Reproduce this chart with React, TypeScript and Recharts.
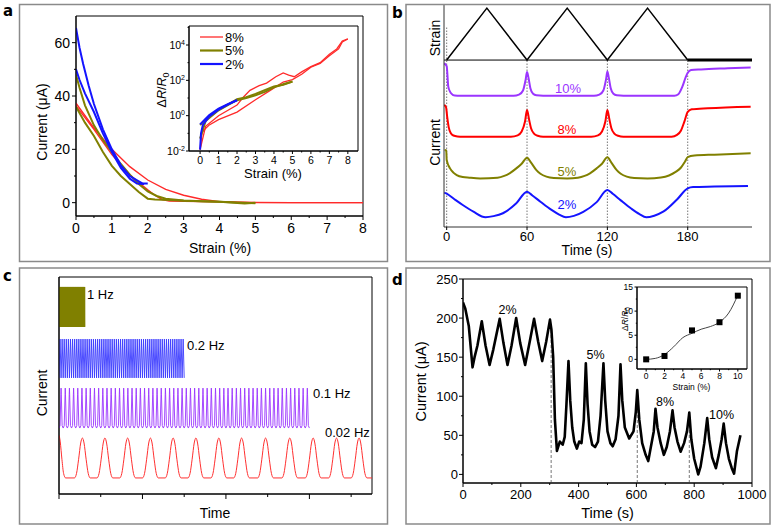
import React from "react";
import {
  LineChart,
  ComposedChart,
  Line,
  Scatter,
  XAxis,
  YAxis,
  ReferenceArea,
  ReferenceLine,
  Legend,
} from "recharts";

const FONT = '"Liberation Sans", Arial, sans-serif';
const RED = "#ff2a2a";
const OLIVE = "#808000";
const BLUE = "#1414ff";
const PURPLE = "#9b35ff";

// ---------- panel a : current vs strain (loading / unloading loops)
const A_RED_1 = [[0, 37.3], [0.5, 28], [1, 20], [1.5, 13.5], [2, 8.5], [2.5, 5], [3, 2.8], [3.5, 1.3], [4, 0.4], [4.5, 0.2], [5, 0.1], [6, 0], [8, 0]];
const A_RED_2 = [[0, 36.3], [0.5, 27.5], [1, 18], [1.5, 10.5], [1.8, 7], [2, 4.8], [2.2, 2.8], [2.4, 1.2], [2.6, 0.6], [3, 0.5], [4, 0.3], [5, 0], [8, 0]];
const A_OLIVE_1 = [[0, 48], [0.1, 43], [0.25, 36.5], [0.5, 29], [0.75, 23.5], [1, 19], [1.25, 14.5], [1.5, 10.5], [1.75, 7], [2, 4.2], [2.25, 2.5], [2.5, 1.5], [3, 0.8], [3.5, 0.5], [4, 0.3], [4.5, 0.1], [5, -0.2]];
const A_OLIVE_2 = [[0, 36], [0.25, 30], [0.5, 25], [0.75, 19], [1, 13.8], [1.25, 10], [1.5, 7], [1.75, 4], [2, 1.5], [2.2, 1.2], [2.6, 1], [3, 0.7], [4, 0.3], [4.7, -0.3], [5, 0]];
const A_BLUE_1 = [[0, 65.5], [0.1, 58], [0.2, 52], [0.35, 44], [0.5, 37], [0.75, 27.5], [1, 20], [1.25, 14], [1.5, 10], [1.75, 8], [1.85, 7.2], [2, 7.2]];
const A_BLUE_2 = [[0, 50], [0.1, 46], [0.25, 41], [0.5, 34], [0.75, 26], [1, 19], [1.25, 13], [1.5, 9], [1.7, 7.2], [1.9, 7]];

// inset a : dR/R0 (log) vs strain
const AI_RED_1 = [[0, 0.012], [0.1, 0.1], [0.2, 0.15], [0.5, 0.3], [1, 0.6], [2, 1.6], [3, 8], [3.8, 27], [4.5, 80], [5, 110], [5.5, 220], [6, 550], [6.5, 900], [7, 2500], [7.5, 6000], [7.7, 15000], [8, 22000]];
const AI_RED_2 = [[8, 22000], [7.7, 17000], [7.4, 6000], [7, 3000], [6.5, 1000], [6, 600], [5.5, 300], [5.1, 160], [4.8, 200], [4.5, 260], [4.1, 160], [3.6, 70], [3.2, 50], [2.7, 27], [2.3, 10], [2, 4], [1, 1], [0.3, 0.25], [0, 0.012]];
const AI_OLIVE_1 = [[0, 0.3], [0.3, 0.6], [1, 2.2], [1.5, 4.2], [2, 8.5], [2.5, 11], [3, 17], [3.5, 28], [4, 45], [4.5, 56], [5, 85]];
const AI_OLIVE_2 = [[5, 85], [4.5, 60], [4, 40], [3.5, 22], [3, 14], [2.5, 10], [2, 7.5], [1.5, 4], [1, 2], [0.3, 0.5], [0, 0.05]];
const AI_BLUE_1 = [[0, 0.32], [0.25, 0.6], [0.5, 1.1], [1, 2.5], [1.5, 4.5], [2, 7.5]];
const AI_BLUE_2 = [[0, 0.012], [0.05, 0.1], [0.15, 0.3], [0.5, 0.9], [1, 2.2], [1.5, 4.2], [2, 7.5]];
const AI_LEGEND = ["8%", "5%", "2%"];

// ---------- panel b : stacked traces (arbitrary units) vs time (s)
const B_STRAIN = [[0, 75.2], [30, 98.6], [60, 75.2], [90, 98.6], [120, 75.2], [150, 98.6], [180, 75.2]];
const B_HOLD = [[180, 75.2], [228, 75.2]];
const B_10 = [[-1.8, 73.7], [0, 72.5], [1.2, 63.2], [2.5, 61], [3.7, 60], [6, 59.2], [10, 59.1], [50, 59.1], [54, 59.6], [57, 61.5], [59, 66.5], [60, 69.8], [61, 67.5], [62.5, 62.5], [64.5, 60], [67, 59.3], [72, 59.1], [110, 59.1], [114, 59.6], [117, 61.5], [119, 66.5], [120, 70], [121, 67.5], [122.5, 62.5], [124.5, 60], [127, 59.3], [132, 59.1], [170, 59.1], [173, 59.8], [176, 63.2], [178.5, 67.5], [180, 69.5], [182.5, 70.7], [190, 71], [210, 71.5], [227, 71.9]];
const B_8 = [[-1.8, 55], [-0.5, 54], [0.5, 49], [1.5, 45], [3, 42.3], [5, 41.2], [8, 40.8], [12, 40.7], [48, 40.7], [53, 41.3], [56, 43], [58.5, 47.5], [60, 52.7], [61.5, 48.5], [63, 44.5], [65, 42.2], [68, 41.1], [72, 40.7], [108, 40.7], [113, 41.3], [116, 43], [118.5, 47.5], [120, 52.7], [121.5, 48.5], [123, 44.5], [125, 42.2], [128, 41.1], [132, 40.7], [168, 40.7], [172, 41.5], [175, 43.5], [177.5, 47.5], [180, 51.9], [183, 53], [195, 53.5], [227, 54.2]];
const B_5 = [[-1.5, 34.7], [-0.3, 34.5], [0, 30.2], [2.5, 26.4], [5, 24.5], [7.5, 23.4], [12, 22.5], [17, 22.2], [25, 21.9], [38, 22.2], [43, 23], [47, 24.2], [52, 26.4], [56, 28.5], [60, 31.2], [63, 29], [67, 25.6], [70, 24], [74.5, 22.7], [80, 22.1], [90, 21.9], [98, 22.2], [103, 23], [107, 24.2], [112, 26.4], [116, 28.5], [120, 31.4], [123, 29], [127, 25.6], [130, 24], [134.5, 22.7], [140, 22.1], [150, 21.9], [160, 22.3], [166, 23.2], [171, 24.8], [175, 26.8], [178, 29.5], [180, 31.5], [185, 32.2], [200, 32.6], [227, 33.2]];
const B_2 = [[-1.8, 15.5], [0, 15], [6, 12.4], [12, 9.9], [20, 6.9], [29, 4.4], [35, 4.9], [42, 6.2], [52, 10.7], [60, 15.9], [64, 14.2], [70, 11.4], [78, 7.8], [84, 5.6], [89, 4.4], [95, 5], [102, 6.8], [112, 11.2], [120, 16.7], [124, 15], [130, 12], [138, 8.2], [144, 5.8], [149, 4.4], [155, 5.1], [162, 7], [172, 12.4], [180, 17.4], [184, 18], [200, 18.2], [225, 18.5]];
const B_MARKS = [[0, 90], [60, 75.2], [120, 75.2], [180, 75.2]];

// ---------- panel c : cyclic tests at different frequencies (arbitrary units)
const C_OLIVE_CYCLE = [[0, 77], [0.5, 95.4]]; // 1 Hz
const C_BLUE_CYCLE = [[0, 53.5], [0.5, 71.4]]; // 0.2 Hz
const C_PURPLE_CYCLE = [[0, 30.4], [0.25, 31.5], [0.45, 46], [0.5, 48.8], [0.55, 46], [0.75, 31.5]]; // 0.1 Hz
const C_CYCLES = { olive: { period: 1, count: 62 }, blue: { period: 5, count: 60 }, purple: { period: 10, count: 60 } };
const C_RED_START = [[0.5, 27], [3, 24], [7, 16], [11, 9.5], [16, 7.4]];
const C_RED_PEAKS = [56, 110, 164.5, 219, 273.5, 328, 383, 437.5, 495, 553, 609, 665, 719];
const C_RED_SHAPE = [[-19, 7.4], [-14, 9.5], [-9, 16], [-4, 23.5], [0, 25.8], [4, 23.5], [9, 16], [14, 9.5], [19, 7.4]];
const C_RED_END = [[750, 7.4]];

// ---------- panel d : current (uA) vs time (s)
const D_TIME = [0, 8, 20, 33, 40, 50, 65, 78, 92, 105, 127, 140, 154, 168, 184, 198, 215, 230, 246, 260, 274, 288, 301, 306, 312, 318, 325, 335, 345, 352, 358, 365, 371, 378, 385, 394, 402, 410, 418, 425, 431, 438, 447, 457, 467, 476, 486, 492, 500, 510, 518, 528, 538, 545, 551, 560, 575, 590, 598, 603, 610, 620, 632, 641, 650, 660, 666, 673, 684, 695, 705, 716, 725, 732, 742, 753, 765, 775, 783, 790, 800, 814, 822, 835, 845, 852, 862, 875, 885, 895, 902, 910, 920, 930, 938, 948, 960];
const D_CURRENT = [220, 212, 190, 137, 150, 165, 196, 165, 140, 160, 199, 168, 140, 165, 200, 168, 140, 168, 199, 170, 145, 170, 198, 185, 150, 70, 30, 42, 38, 48, 90, 145, 95, 60, 42, 33, 42, 40, 70, 142, 90, 55, 38, 35, 42, 75, 142, 95, 55, 40, 36, 45, 75, 141, 95, 60, 46, 55, 80, 108, 70, 40, 25, 17, 35, 55, 84, 60, 40, 25, 35, 55, 82, 60, 42, 29, 40, 55, 79, 45, 20, 0, 10, 40, 72, 45, 22, 8, 25, 45, 65, 40, 20, 8, 1, 30, 50];
const D_MARKS = [[305, 185], [603, 108], [783, 79]];
const D_STEPS = ["2%", "5%", "8%", "10%"];

// inset d : dR/R0 vs strain
const DI_STRAIN = [0, 2, 5, 8, 10];
const DI_RATIO = [0, 0.7, 6, 7.7, 13.2];
const DI_FIT = [[0, 0], [1, 0.2], [2, 1], [3, 2.6], [4, 4.5], [5, 5.4], [6, 6.25], [7, 6.8], [8, 7.7], [9, 9.6], [10, 13.3]];

const pts = (arr: number[][]) => arr.map(([x, y]) => ({ x, y }));

function repeatCycle(shape: number[][], period: number, count: number) {
  const out: { x: number; y: number }[] = [];
  for (let i = 0; i < count; i++) {
    for (const [f, v] of shape) out.push({ x: (i + f) * period, y: v });
  }
  out.push({ x: count * period, y: shape[0][1] });
  return out;
}

const near = (v: number, list: number[]) =>
  list.some((m) => Math.abs(m - v) <= 1e-6 * Math.max(1, Math.abs(m)));

type TickOpts = {
  majors: number[];
  major: number;
  minor: number;
  font: number;
  offset: number;
  fmt?: (v: number) => React.ReactNode;
  noLabel?: boolean;
};

const xTick = (o: TickOpts) => (p: any) => {
  const v = p.payload.value;
  const isMajor = near(v, o.majors);
  return (
    <g>
      <line x1={p.x} x2={p.x} y1={p.y} y2={p.y + (isMajor ? o.major : o.minor)} stroke="#000" />
      {isMajor && !o.noLabel && (
        <text x={p.x} y={p.y + o.offset} textAnchor="middle" fontSize={o.font} fontFamily={FONT} fill="#000">
          {o.fmt ? o.fmt(v) : v}
        </text>
      )}
    </g>
  );
};

const yTick = (o: TickOpts) => (p: any) => {
  const v = p.payload.value;
  const isMajor = near(v, o.majors);
  return (
    <g>
      <line x1={p.x - (isMajor ? o.major : o.minor)} x2={p.x} y1={p.y} y2={p.y} stroke="#000" />
      {isMajor && !o.noLabel && (
        <text x={p.x - o.offset} y={p.y + o.font * 0.36} textAnchor="end" fontSize={o.font} fontFamily={FONT} fill="#000">
          {o.fmt ? o.fmt(v) : v}
        </text>
      )}
    </g>
  );
};

const pow10 = (v: number) => (
  <>
    <tspan>10</tspan>
    <tspan dy={-4} fontSize={7}>{Math.round(Math.log10(v))}</tspan>
  </>
);

const range = (a: number, b: number, s: number) => {
  const out: number[] = [];
  for (let v = a; v <= b + 1e-9; v += s) out.push(+v.toFixed(6));
  return out;
};

const lineProps = { dot: false, activeDot: false, isAnimationActive: false } as const;

function InsetLegend({ payload }: any) {
  const items = AI_LEGEND.map((name) => (payload || []).find((e: any) => e.value === name)).filter(Boolean);
  return (
    <svg width={80} height={46} style={{ overflow: "visible" }}>
      {items.map((e: any, i: number) => (
        <g key={e.value}>
          <line x1={0} x2={23} y1={5 + i * 13.5} y2={5 + i * 13.5} stroke={e.color} strokeWidth={e.value === "8%" ? 1.3 : 2.2} />
          <text x={25} y={9.5 + i * 13.5} fontSize={13} fontFamily={FONT} fill="#000">{e.value}</text>
        </g>
      ))}
    </svg>
  );
}

function PanelA() {
  return (
    <>
      <div style={{ position: "absolute", left: 0, top: 0 }}>
        <LineChart width={400} height={262} margin={{ top: 16, right: 37, bottom: 0, left: 0 }}>
          <XAxis type="number" dataKey="x" domain={[0, 8]} allowDataOverflow ticks={range(0, 8, 0.5)} interval={0}
            height={46} tickSize={0} tickMargin={0} tickLine={false} axisLine={{ stroke: "#000" }}
            tick={xTick({ majors: range(0, 8, 1), major: 4, minor: 2, font: 14, offset: 17 })} />
          <YAxis type="number" dataKey="y" domain={[-5, 70]} allowDataOverflow ticks={range(0, 60, 10)} interval={0}
            width={76} tickSize={0} tickMargin={0} tickLine={false} axisLine={{ stroke: "#000" }}
            tick={yTick({ majors: [0, 20, 40, 60], major: 4, minor: 2, font: 14, offset: 6 })} />
          <ReferenceArea x1={0} x2={8} y1={-5} y2={70} fill="none" stroke="#000" />
          <Line data={pts(A_RED_1)} dataKey="y" stroke={RED} strokeWidth={1.4} {...lineProps} />
          <Line data={pts(A_RED_2)} dataKey="y" stroke={RED} strokeWidth={1.4} {...lineProps} />
          <Line data={pts(A_OLIVE_1)} dataKey="y" stroke={OLIVE} strokeWidth={2} {...lineProps} />
          <Line data={pts(A_OLIVE_2)} dataKey="y" stroke={OLIVE} strokeWidth={2} {...lineProps} />
          <Line data={pts(A_BLUE_1)} dataKey="y" stroke={BLUE} strokeWidth={2} {...lineProps} />
          <Line data={pts(A_BLUE_2)} dataKey="y" stroke={BLUE} strokeWidth={2} {...lineProps} />
        </LineChart>
      </div>
      <div style={{ position: "absolute", left: 150, top: 10 }}>
        <LineChart width={215} height={175} margin={{ top: 16, right: 7, bottom: 0, left: 0 }}>
          <XAxis type="number" dataKey="x" domain={[-0.6, 8.55]} allowDataOverflow ticks={range(0, 8, 0.5)} interval={0}
            height={34} tickSize={0} tickMargin={0} tickLine={false} axisLine={{ stroke: "#000" }}
            tick={xTick({ majors: range(0, 8, 1), major: 3, minor: 1.5, font: 10.5, offset: 13 })} />
          <YAxis type="number" dataKey="y" scale="log" domain={[0.01, 119000]} allowDataOverflow
            ticks={[0.01, 0.1, 1, 10, 100, 1000, 10000, 100000]} interval={0}
            width={39} tickSize={0} tickMargin={0} tickLine={false} axisLine={{ stroke: "#000" }}
            tick={yTick({ majors: [0.01, 1, 100, 10000], major: 3, minor: 1.5, font: 10.5, offset: 4, fmt: pow10 })} />
          <ReferenceArea x1={-0.6} x2={8.55} y1={0.01} y2={119000} fill="none" stroke="#000" />
          <Line data={pts(AI_RED_1)} dataKey="y" name="8%" stroke={RED} strokeWidth={1.3} {...lineProps} />
          <Line data={pts(AI_RED_2)} dataKey="y" name="8%b" legendType="none" stroke={RED} strokeWidth={1.3} {...lineProps} />
          <Line data={pts(AI_OLIVE_1)} dataKey="y" name="5%" stroke={OLIVE} strokeWidth={2} {...lineProps} />
          <Line data={pts(AI_OLIVE_2)} dataKey="y" name="5%b" legendType="none" stroke={OLIVE} strokeWidth={2} {...lineProps} />
          <Line data={pts(AI_BLUE_1)} dataKey="y" name="2%" stroke={BLUE} strokeWidth={2} {...lineProps} />
          <Line data={pts(AI_BLUE_2)} dataKey="y" name="2%b" legendType="none" stroke={BLUE} strokeWidth={2} {...lineProps} />
          <Legend layout="horizontal" verticalAlign="middle" align="center" content={InsetLegend}
            wrapperStyle={{ left: 50, top: 22, width: 80, height: 46 }} />
        </LineChart>
      </div>
    </>
  );
}

function PanelB() {
  const traces = [
    { d: B_10, c: PURPLE },
    { d: B_8, c: "#ff0000" },
    { d: B_5, c: OLIVE },
    { d: B_2, c: BLUE },
  ];
  return (
    <div style={{ position: "absolute", left: 400, top: 0 }}>
      <LineChart width={370} height={262} margin={{ top: 5, right: 18, bottom: 0, left: 0 }}>
        <XAxis type="number" dataKey="x" domain={[-2, 228]} allowDataOverflow ticks={[0, 60, 120, 180]} interval={0}
          height={35} tickSize={0} tickMargin={0} tickLine={false} axisLine={{ stroke: "#333" }}
          tick={xTick({ majors: [0, 60, 120, 180], major: 3, minor: 0, font: 13, offset: 14 })} />
        <YAxis type="number" dataKey="y" domain={[0, 100]} allowDataOverflow width={44} tick={false}
          tickLine={false} axisLine={{ stroke: "#333" }} />
        {B_MARKS.map(([t, top]) => (
          <ReferenceLine key={t} segment={[{ x: t, y: 0 }, { x: t, y: top }]} stroke="#777" strokeDasharray="1.5 1.5" />
        ))}
        <ReferenceLine y={75.2} stroke="#000" strokeWidth={1} />
        <Line data={pts(B_STRAIN)} dataKey="y" type="linear" stroke="#000" strokeWidth={1.5} {...lineProps} />
        <Line data={pts(B_HOLD)} dataKey="y" type="linear" stroke="#000" strokeWidth={3} {...lineProps} />
        {traces.map((t, i) => (
          <Line key={i} data={pts(t.d)} dataKey="y" type="monotone" stroke={t.c} strokeWidth={2} {...lineProps} />
        ))}
      </LineChart>
    </div>
  );
}

function PanelC() {
  const red = [
    ...pts(C_RED_START),
    ...C_RED_PEAKS.flatMap((p) => C_RED_SHAPE.map(([dt, v]) => ({ x: p + dt, y: v }))),
    ...pts(C_RED_END),
  ];
  return (
    <div style={{ position: "absolute", left: 0, top: 262 }}>
      <LineChart width={400} height={268} margin={{ top: 15, right: 28, bottom: 0, left: 0 }}>
        <XAxis type="number" dataKey="x" domain={[0, 750]} allowDataOverflow ticks={range(0, 700, 100)} interval={0}
          height={36} tickSize={0} tickMargin={0} tickLine={false} axisLine={{ stroke: "#000" }}
          tick={xTick({ majors: [0, 200, 400, 600], major: 5, minor: 3, font: 12, offset: 14, noLabel: true })} />
        <YAxis type="number" dataKey="y" domain={[0, 100]} allowDataOverflow width={59} tick={false}
          tickLine={false} axisLine={{ stroke: "#000" }} />
        <ReferenceArea x1={0} x2={750} y1={0} y2={100} fill="none" stroke="#000" />
        <Line data={repeatCycle(C_OLIVE_CYCLE, C_CYCLES.olive.period, C_CYCLES.olive.count)} dataKey="y" type="linear" stroke={OLIVE} strokeWidth={1} {...lineProps} />
        <Line data={repeatCycle(C_BLUE_CYCLE, C_CYCLES.blue.period, C_CYCLES.blue.count)} dataKey="y" type="linear" stroke="#3a3aff" strokeWidth={0.9} {...lineProps} />
        <Line data={repeatCycle(C_PURPLE_CYCLE, C_CYCLES.purple.period, C_CYCLES.purple.count)} dataKey="y" type="linear" stroke={PURPLE} strokeWidth={0.9} {...lineProps} />
        <Line data={red} dataKey="y" type="monotone" stroke="#ff3030" strokeWidth={1} {...lineProps} />
      </LineChart>
    </div>
  );
}

function PanelD() {
  const data = D_TIME.map((t, i) => ({ x: t, y: D_CURRENT[i] }));
  const inset = DI_STRAIN.map((s, i) => ({ x: s, y: DI_RATIO[i] }));
  return (
    <>
      <div style={{ position: "absolute", left: 400, top: 262 }}>
        <LineChart width={370} height={268} margin={{ top: 17, right: 18, bottom: 0, left: 0 }}>
          <XAxis type="number" dataKey="x" domain={[0, 1000]} allowDataOverflow ticks={range(0, 1000, 100)} interval={0}
            height={47} tickSize={0} tickMargin={0} tickLine={false} axisLine={{ stroke: "#000" }}
            tick={xTick({ majors: range(0, 1000, 200), major: 4, minor: 2, font: 13, offset: 16 })} />
          <YAxis type="number" dataKey="y" domain={[-11, 250]} allowDataOverflow ticks={range(0, 250, 25)} interval={0}
            width={63} tickSize={0} tickMargin={0} tickLine={false} axisLine={{ stroke: "#000" }}
            tick={yTick({ majors: range(0, 250, 50), major: 4, minor: 2, font: 13, offset: 5 })} />
          <ReferenceArea x1={0} x2={1000} y1={-11} y2={250} fill="none" stroke="#000" />
          {D_MARKS.map(([t, top]) => (
            <ReferenceLine key={t} segment={[{ x: t, y: -11 }, { x: t, y: top }]} stroke="#777" strokeDasharray="3 2" />
          ))}
          <Line data={data} dataKey="y" type="linear" stroke="#000" strokeWidth={2.6} strokeLinejoin="round" {...lineProps} />
        </LineChart>
      </div>
      <div style={{ position: "absolute", left: 590, top: 280 }}>
        <ComposedChart width={165} height={115} margin={{ top: 7, right: 8, bottom: 0, left: 0 }}>
          <XAxis type="number" dataKey="x" domain={[-1, 11]} allowDataOverflow ticks={range(0, 10, 1)} interval={0}
            height={26} tickSize={0} tickMargin={0} tickLine={false} axisLine={{ stroke: "#000" }}
            tick={xTick({ majors: range(0, 10, 2), major: 2.5, minor: 1.2, font: 8.5, offset: 10 })} />
          <YAxis type="number" dataKey="y" domain={[-2, 15]} allowDataOverflow ticks={range(0, 15, 2.5)} interval={0}
            width={47} tickSize={0} tickMargin={0} tickLine={false} axisLine={{ stroke: "#000" }}
            tick={yTick({ majors: [0, 5, 10, 15], major: 2.5, minor: 1.2, font: 8.5, offset: 4 })} />
          <ReferenceArea x1={-1} x2={11} y1={-2} y2={15} fill="none" stroke="#000" />
          <Line data={pts(DI_FIT)} dataKey="y" type="monotone" stroke="#444" strokeWidth={1} {...lineProps} />
          <Scatter data={inset} dataKey="y" fill="#000" isAnimationActive={false}
            shape={(p: any) => <rect x={p.cx - 3} y={p.cy - 3} width={6} height={6} fill="#000" />} />
        </ComposedChart>
      </div>
    </>
  );
}

function Overlay() {
  const t = { fontFamily: FONT, fill: "#000" };
  const letter = { fontFamily: '"DejaVu Sans", sans-serif', fontWeight: 700, fontSize: 15, fill: "#000" };
  const frame = { fill: "none", stroke: "#8a8a8a", strokeWidth: 1.5 };
  return (
    <svg width={776} height={531} style={{ position: "absolute", left: 0, top: 0, pointerEvents: "none" }}>
      <rect x={19.5} y={4.5} width={368} height={257} {...frame} />
      <rect x={406} y={4.5} width={364} height={257} {...frame} />
      <rect x={19.5} y={268} width={368} height={256} {...frame} />
      <rect x={406} y={268} width={364} height={256} {...frame} />
      <text x={3} y={16} {...letter}>a</text>
      <text x={392} y={18} {...letter}>b</text>
      <text x={3} y={281} {...letter}>c</text>
      <text x={392} y={285} {...letter}>d</text>

      {/* panel a */}
      <text x={47} y={122} fontSize={14} textAnchor="middle" transform="rotate(-90 47 122)" {...t}>Current (μA)</text>
      <text x={220} y={253} fontSize={14} textAnchor="middle" {...t}>Strain (%)</text>
      <text x={273} y={177.5} fontSize={13} textAnchor="middle" {...t}>Strain (%)</text>
      <text x={166} y={90} fontSize={12.5} textAnchor="middle" transform="rotate(-90 166 90)" {...t}>
        <tspan>Δ</tspan><tspan fontStyle="italic">R</tspan><tspan>/</tspan><tspan fontStyle="italic">R</tspan>
        <tspan dy={3} fontSize={9}>0</tspan>
      </text>

      {/* panel b */}
      <text x={440} y={38} fontSize={14} textAnchor="middle" transform="rotate(-90 440 38)" {...t}>Strain</text>
      <text x={440} y={142.5} fontSize={14} textAnchor="middle" transform="rotate(-90 440 142.5)" {...t}>Current</text>
      <text x={587} y={255} fontSize={14} textAnchor="middle" {...t}>Time (s)</text>
      <text x={568} y={93} fontSize={13} textAnchor="middle" fontFamily={FONT} fill={PURPLE}>10%</text>
      <text x={567} y={134} fontSize={13} textAnchor="middle" fontFamily={FONT} fill="#ff0000">8%</text>
      <text x={567} y={176} fontSize={13} textAnchor="middle" fontFamily={FONT} fill={OLIVE}>5%</text>
      <text x={567} y={209} fontSize={13} textAnchor="middle" fontFamily={FONT} fill={BLUE}>2%</text>

      {/* panel c */}
      <text x={46.5} y={393} fontSize={14} textAnchor="middle" transform="rotate(-90 46.5 393)" {...t}>Current</text>
      <text x={215} y={518} fontSize={14} textAnchor="middle" {...t}>Time</text>
      <text x={87} y={298.5} fontSize={13} {...t}>1 Hz</text>
      <text x={187} y={350} fontSize={13} {...t}>0.2 Hz</text>
      <text x={313} y={398} fontSize={13} {...t}>0.1 Hz</text>
      <text x={325} y={437} fontSize={13} {...t}>0.02 Hz</text>

      {/* panel d */}
      <text x={426} y={381.5} fontSize={14.5} textAnchor="middle" transform="rotate(-90 426 381.5)" {...t}>Current (μA)</text>
      <text x={607.5} y={518} fontSize={14.5} textAnchor="middle" {...t}>Time (s)</text>
      <text x={507.5} y={314} fontSize={12.5} textAnchor="middle" {...t}>{D_STEPS[0]}</text>
      <text x={595.5} y={358.5} fontSize={12.5} textAnchor="middle" {...t}>{D_STEPS[1]}</text>
      <text x={665} y={406} fontSize={12.5} textAnchor="middle" {...t}>{D_STEPS[2]}</text>
      <text x={721.5} y={419} fontSize={12.5} textAnchor="middle" {...t}>{D_STEPS[3]}</text>
      <text x={691.5} y={390} fontSize={8.5} textAnchor="middle" {...t}>Strain (%)</text>
      <text x={628} y={319} fontSize={8.5} textAnchor="middle" transform="rotate(-90 628 319)" {...t}>
        <tspan>Δ</tspan><tspan fontStyle="italic">R</tspan><tspan>/</tspan><tspan fontStyle="italic">R</tspan>
        <tspan dy={2} fontSize={6.5}>0</tspan>
      </text>
    </svg>
  );
}

export default function App() {
  return (
    <div style={{ position: "absolute", left: 0, top: 0, width: 776, height: 531, background: "#fff", fontFamily: FONT }}>
      <PanelA />
      <PanelB />
      <PanelC />
      <PanelD />
      <Overlay />
    </div>
  );
}
